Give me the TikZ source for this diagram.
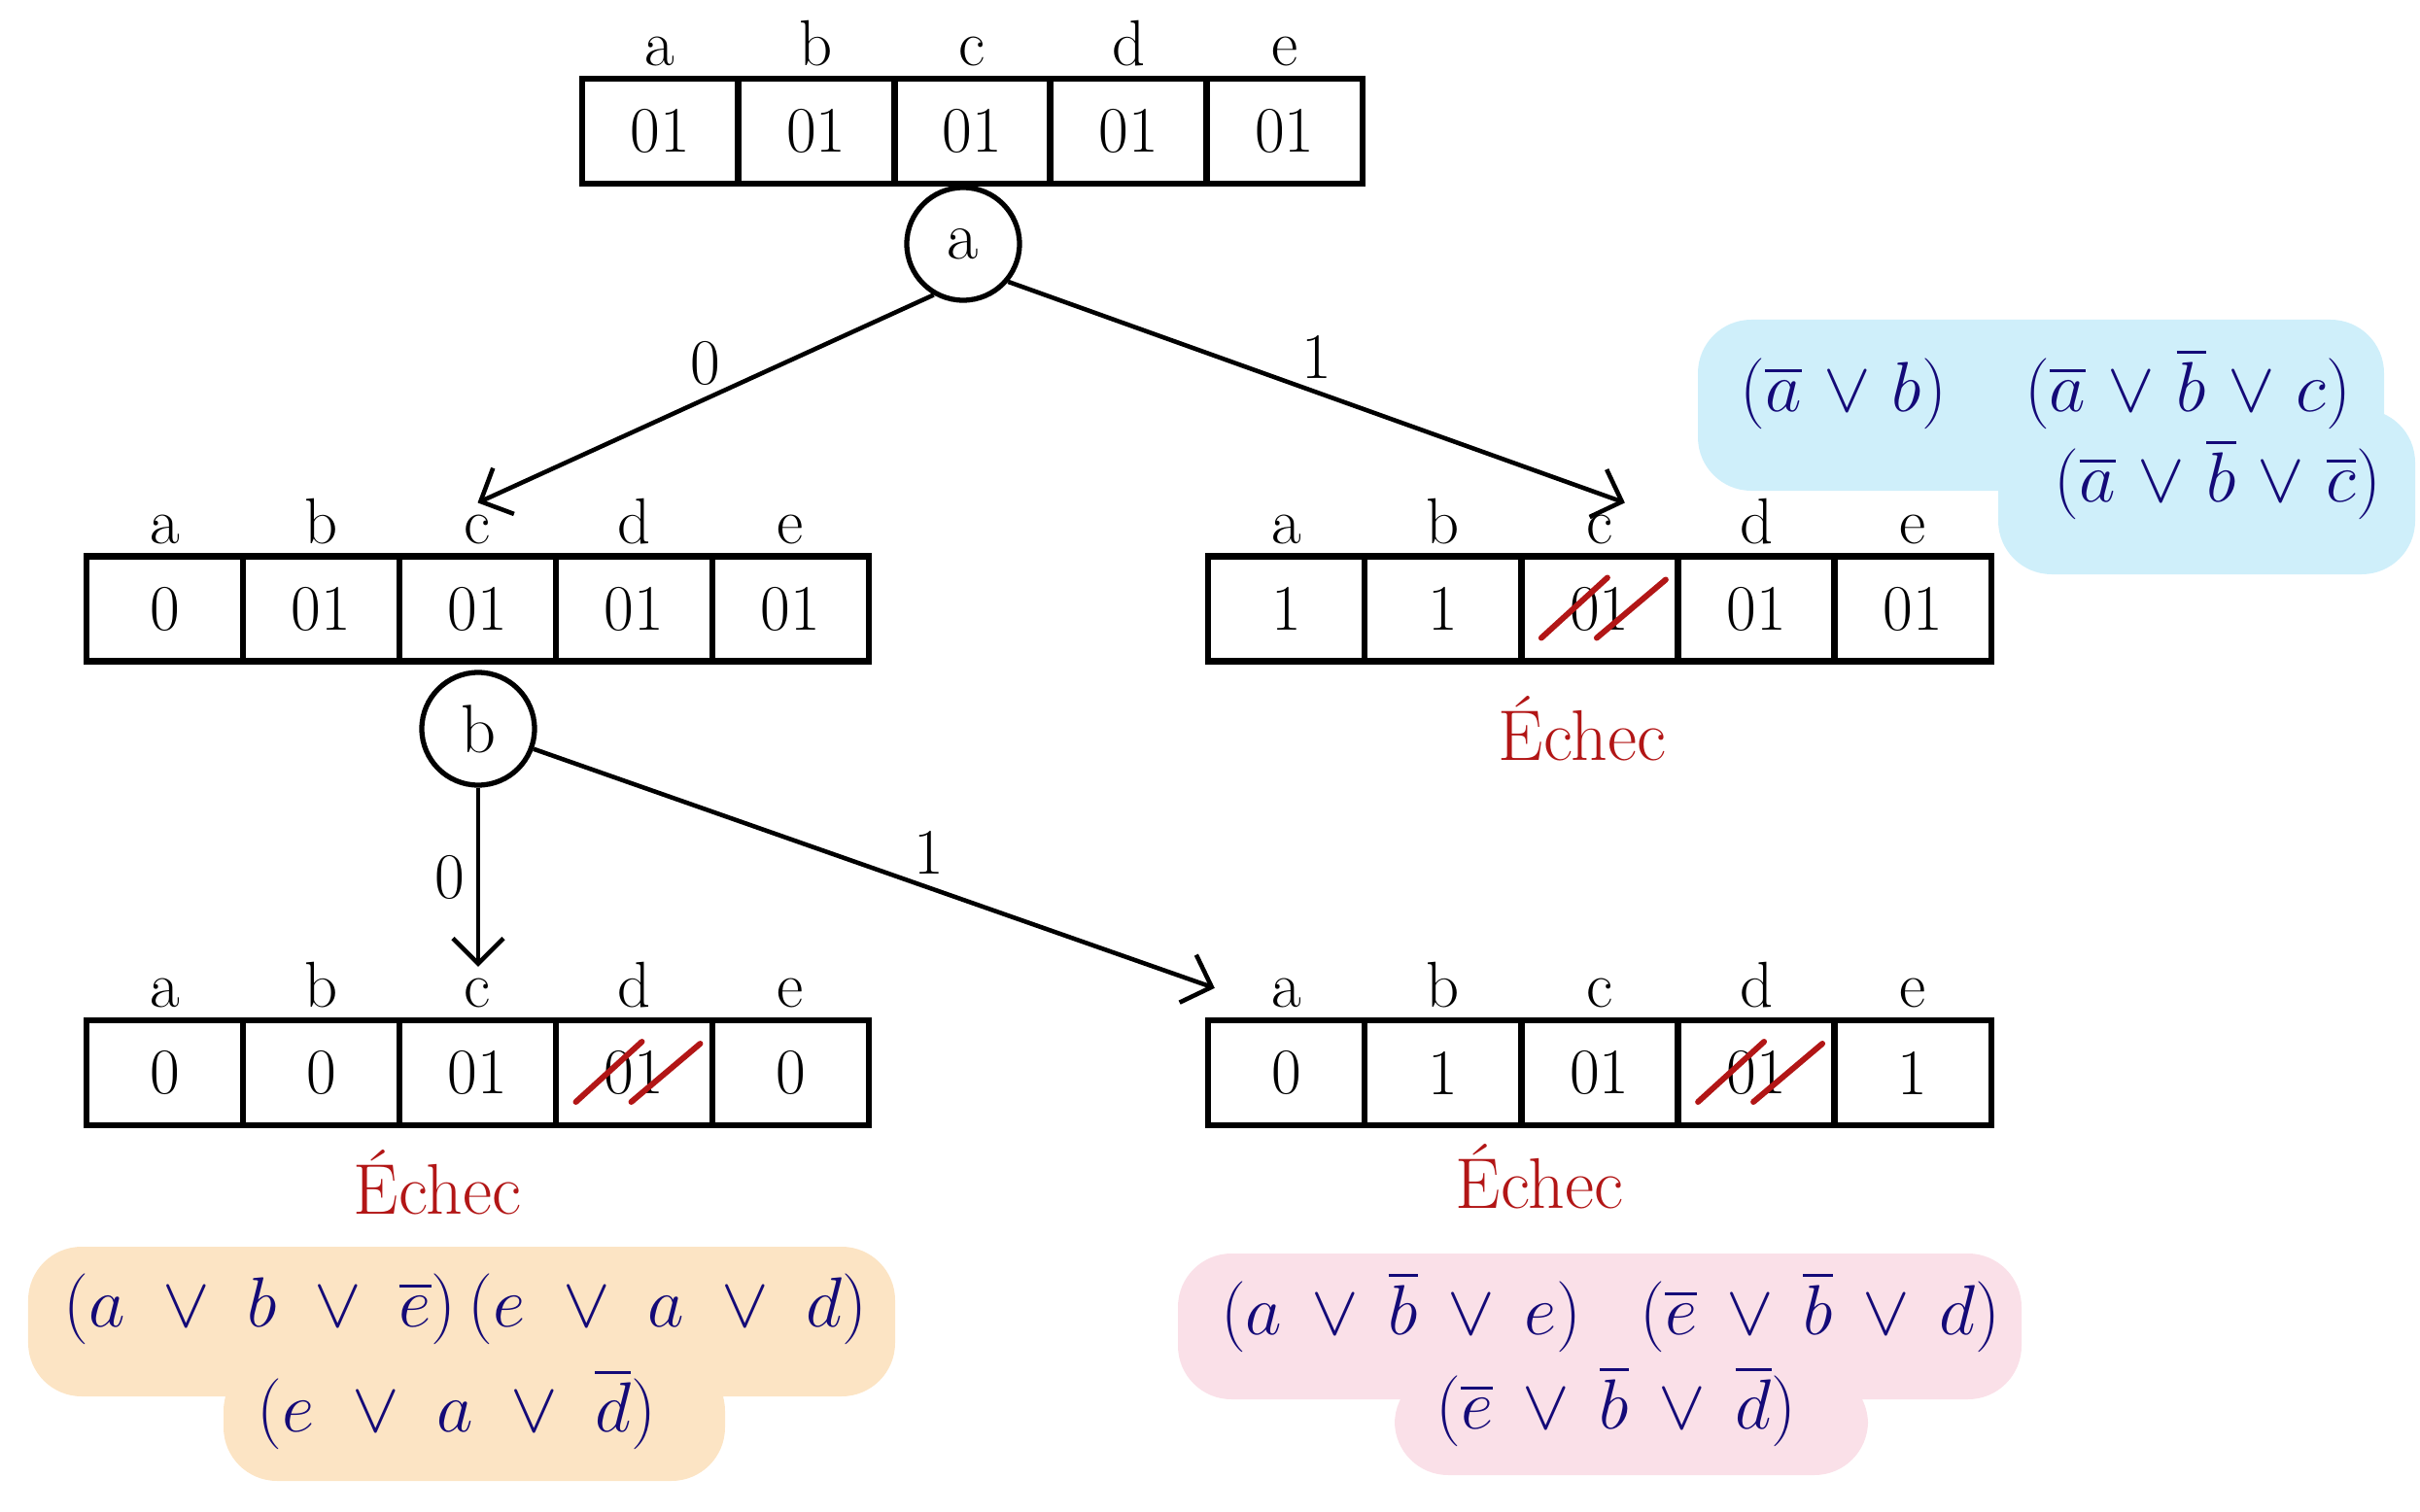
\documentclass[tikz,border=0pt]{standalone}
\usepackage{amsmath}
\usepackage{tikz}
\usetikzlibrary{positioning,arrows.meta}

\definecolor{ink}{RGB}{20,10,120}
\definecolor{echec}{RGB}{178,22,22}
\definecolor{hlblue}{RGB}{207,239,250}
\definecolor{hlorange}{RGB}{252,228,196}
\definecolor{hlpink}{RGB}{250,224,232}

\tikzset{
  cell/.style={draw, line width=1.8pt, minimum width=1.61cm, minimum height=1.08cm, inner sep=0pt, font=\fontsize{19}{22}\selectfont},
  var/.style={anchor=base, font=\fontsize{19}{22}\selectfont},
  pivot/.style={draw, circle, line width=1.5pt, minimum size=1.16cm, inner sep=0pt, font=\fontsize{20}{24}\selectfont},
  branch/.style={line width=1.3pt, -{Straight Barb[length=2.6mm,width=5.2mm]}},
  bit/.style={font=\fontsize{19}{22}\selectfont},
  strike/.style={echec, line width=1.7pt, line cap=round},
  fail/.style={text=echec, font=\fontsize{21}{24}\selectfont},
  clause/.style={text=ink, font=\fontsize{22}{26}\selectfont},
}

\begin{document}
\begin{tikzpicture}
  \useasboundingbox (0,0) rectangle (24.9,-15.56);

  \fill[hlblue, rounded corners=0.55cm] (17.47,-3.29) rectangle (24.53,-5.05) (20.56,-4.21) rectangle (24.85,-5.91);
  \fill[hlorange, rounded corners=0.55cm] (0.29,-12.83) rectangle (9.21,-14.37) (2.30,-13.97) rectangle (7.46,-15.24);
  \fill[hlpink, rounded corners=0.55cm] (12.12,-12.90) rectangle (20.80,-14.40) (14.35,-14.10) rectangle (19.22,-15.18);

  \foreach \v/\l [count=\i] in {01/a,01/b,01/c,01/d,01/e} {
    \node[cell] (root-\i) at ({6.793+1.606*(\i-1)},-1.35) {\v};
    \node[var] (root-\l) at ([yshift=0.1cm]root-\i.north) {\l};
  }
  \foreach \v/\l [count=\i] in {0/a,01/b,01/c,01/d,01/e} {
    \node[cell] (a0-\i) at ({1.695+1.61*(\i-1)},-6.265) {\v};
    \node[var] (a0-\l) at ([yshift=0.1cm]a0-\i.north) {\l};
  }
  \foreach \v/\l [count=\i] in {1/a,1/b,01/c,01/d,01/e} {
    \node[cell] (a1-\i) at ({13.235+1.612*(\i-1)},-6.265) {\v};
    \node[var] (a1-\l) at ([yshift=0.1cm]a1-\i.north) {\l};
  }
  \foreach \v/\l [count=\i] in {0/a,0/b,01/c,01/d,0/e} {
    \node[cell] (a0b0-\i) at ({1.695+1.61*(\i-1)},-11.04) {\v};
    \node[var] (a0b0-\l) at ([yshift=0.1cm]a0b0-\i.north) {\l};
  }
  \foreach \v/\l [count=\i] in {0/a,1/b,01/c,01/d,1/e} {
    \node[cell] (a0b1-\i) at ({13.235+1.612*(\i-1)},-11.04) {\v};
    \node[var] (a0b1-\l) at ([yshift=0.1cm]a0b1-\i.north) {\l};
  }

  \foreach \c in {a1-3,a0b0-4,a0b1-4} {
    \draw[strike] ([shift={(-0.6,-0.3)}]\c.center) -- ([shift={(0.08,0.32)}]\c.center);
    \draw[strike] ([shift={(-0.03,-0.3)}]\c.center) -- ([shift={(0.68,0.3)}]\c.center);
  }

  \node[pivot] (da) at (9.91,-2.51) {a};
  \node[pivot] (db) at (4.92,-7.50) {b};
  \coordinate (a0b1-in) at ([shift={(0.1,0.3)}]a0b1-1.north west);

  \draw[branch] (da.-120) -- node[bit, above] {0} (a0-c.north);
  \draw[branch] (da.-40) -- node[bit, above] {1} (a1-c.north east);
  \draw[branch] (db.south) -- node[bit, left] {0} (db.south |- a0b0-c.north);
  \draw[branch] (db.-20) -- node[bit, above, pos=.58] {1} (a0b1-in);

  \node[fail] (fail-a1) at (16.28,-7.50) {Échec};
  \node[fail] (fail-a0b0) at (4.50,-12.17) {Échec};
  \node[fail] (fail-a0b1) at (15.84,-12.11) {Échec};

  \node[clause] (cl-a1-1) at (21.05,-4.00) {$\medmuskip=5.5mu (\overline{a}\vee b)\hspace{0.8cm}(\overline{a}\vee\overline{b}\vee c)$};
  \node[clause] (cl-a1-2) at (22.82,-4.93) {$\medmuskip=5.5mu (\overline{a}\vee\overline{b}\vee\overline{c})$};
  \node[clause] (cl-a0b0-1) at (4.79,-13.47) {$\medmuskip=9.5mu (a\vee b\vee\overline{e})\,(e\vee a\vee d)$};
  \node[clause] (cl-a0b0-2) at (4.70,-14.50) {$\medmuskip=9.5mu (e\vee a\vee\overline{d})$};
  \node[clause] (cl-a0b1-1) at (16.57,-13.50) {$\medmuskip=7.5mu (a\vee\overline{b}\vee e)\hspace{0.6cm}(\overline{e}\vee\overline{b}\vee d)$};
  \node[clause] (cl-a0b1-2) at (16.63,-14.47) {$\medmuskip=7.5mu (\overline{e}\vee\overline{b}\vee\overline{d})$};
\end{tikzpicture}
\end{document}
